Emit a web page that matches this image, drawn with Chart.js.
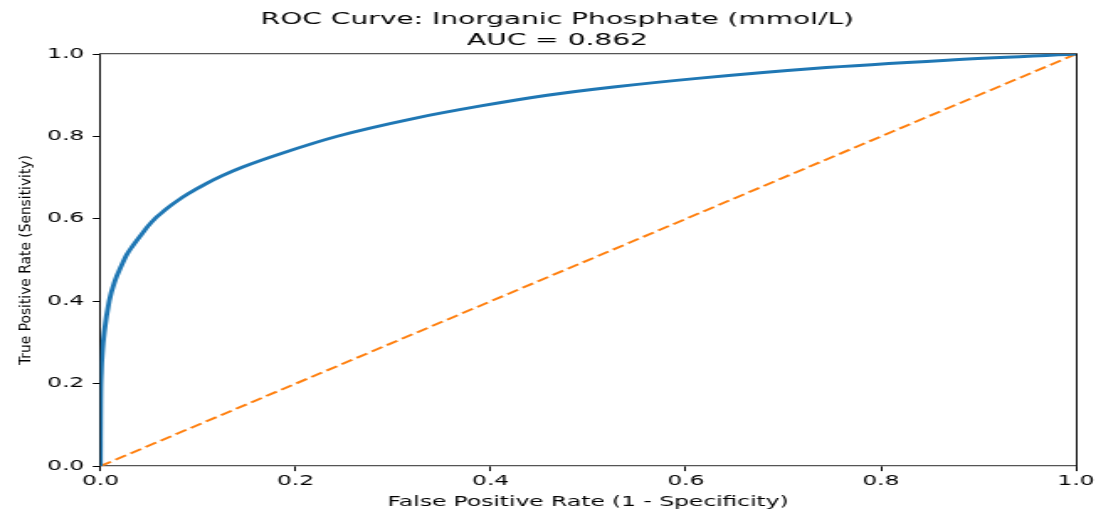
<!DOCTYPE html>
<html>
<head>
<meta charset="utf-8">
<script src="https://cdn.jsdelivr.net/npm/chart.js@4.4.1/dist/chart.umd.min.js"></script>
<style>
  html, body { margin: 0; padding: 0; background: #fff; overflow: hidden; }
  /* the reference is a matplotlib figure stretched sideways, so draw narrow and stretch */
  #wrap { position: absolute; left: 0; top: 0; width: 652px; height: 511px;
          transform: scaleX(1.681); transform-origin: 0 0; }
</style>
</head>
<body>
<div id="wrap"><canvas id="roc"></canvas></div>
<script>
// ROC curve
var fpr = [0, 0.0003, 0.001, 0.002, 0.004, 0.009, 0.015, 0.0215, 0.027, 0.033, 0.043, 0.049,
           0.0556, 0.062, 0.067, 0.073, 0.0795, 0.09, 0.108, 0.125, 0.146, 0.187, 0.242,
           0.322, 0.39, 0.458, 0.526, 0.612, 0.731, 0.868, 1.0];
var tpr = [0, 0.15, 0.23, 0.275, 0.325, 0.40, 0.45, 0.486, 0.513, 0.534, 0.565, 0.583,
           0.600, 0.613, 0.623, 0.634, 0.645, 0.661, 0.685, 0.705, 0.726, 0.760, 0.800,
           0.844, 0.874, 0.900, 0.920, 0.941, 0.965, 0.985, 1.0];

// chance line
var refX = [0, 1];
var refY = [0, 1];

var tickValues = [0, 0.2, 0.4, 0.6, 0.8, 1.0];
var tickLabels = ['0.0', '0.2', '0.4', '0.6', '0.8', '1.0'];

var titleLines = ['ROC Curve: Inorganic Phosphate (mmol/L)', 'AUC = 0.862'];
var xTitle = 'False Positive Rate (1 - Specificity)';
var yTitle = 'True Positive Rate (Sensitivity)';

var STRETCH = 1.681;
var font = 'DejaVu Sans';

function pts(xs, ys) {
  return xs.map(function (x, i) { return { x: x, y: ys[i] }; });
}

function setTicks(axis) {
  axis.ticks = tickValues.map(function (v) { return { value: v }; });
}

// y label is drawn un-stretched in the reference, so undo the sideways stretch for it
var yLabelPlugin = {
  id: 'yLabel',
  afterDraw: function (chart) {
    var ctx = chart.ctx;
    var a = chart.chartArea;
    ctx.save();
    ctx.translate(15.9, (a.top + a.bottom) / 2);
    ctx.scale(1 / STRETCH, 1);
    ctx.rotate(-Math.PI / 2);
    ctx.font = '13.8px "' + font + '"';
    ctx.fillStyle = '#000';
    ctx.textAlign = 'center';
    ctx.textBaseline = 'middle';
    ctx.fillText(yTitle, 0, 0);
    ctx.restore();
  }
};

var ctx = document.getElementById('roc').getContext('2d');

var rocChart = new Chart(ctx, {
  type: 'line',
  data: {
    datasets: [{
      label: 'ROC',
      data: pts(fpr, tpr),
      borderColor: '#1f77b4',
      borderWidth: 2.9,
      pointRadius: 0,
      cubicInterpolationMode: 'monotone',
      fill: false
    }, {
      label: 'Chance',
      data: pts(refX, refY),
      borderColor: '#ff7f0e',
      borderWidth: 1.9,
      borderDash: [7.7, 3.3],
      pointRadius: 0,
      tension: 0,
      fill: false
    }]
  },
  options: {
    responsive: true,
    maintainAspectRatio: false,
    animation: false,
    devicePixelRatio: 1,
    layout: { padding: { left: 23.1, right: 11.9, top: 0, bottom: 0 } },
    plugins: {
      legend: { display: false },
      tooltip: { enabled: false },
      title: {
        display: true,
        text: titleLines,
        color: '#000',
        font: { family: font, size: 16.7, weight: 'normal', lineHeight: 1.25 },
        padding: { top: 9, bottom: 3.3 }
      }
    },
    scales: {
      x: {
        type: 'linear',
        position: 'bottom',
        min: 0,
        max: 1,
        afterBuildTicks: setTicks,
        afterFit: function (axis) { axis.paddingRight = 0; },
        ticks: {
          color: '#000',
          font: { family: font, size: 13.9 },
          padding: 2,
          maxRotation: 0,
          callback: function (v, i) { return tickLabels[i]; }
        },
        grid: { drawOnChartArea: false, drawTicks: true, tickLength: 5, tickColor: '#000', tickWidth: 1 },
        border: { display: true, color: '#555', width: 1.3 },
        title: {
          display: true,
          text: xTitle,
          color: '#000',
          font: { family: font, size: 13.9, lineHeight: 1.2 },
          padding: { top: 2, bottom: 0.5 }
        }
      },
      y: {
        type: 'linear',
        position: 'left',
        min: 0,
        max: 1,
        afterBuildTicks: setTicks,
        ticks: {
          color: '#000',
          font: { family: font, size: 13.9 },
          padding: 5,
          callback: function (v, i) { return tickLabels[i]; }
        },
        grid: { drawOnChartArea: false, drawTicks: true, tickLength: 4.5, tickColor: '#000', tickWidth: 1 },
        border: { display: true, color: '#111', width: 1 }
      },
      xTop: {
        type: 'linear',
        position: 'top',
        min: 0,
        max: 1,
        ticks: { display: false },
        grid: { display: false, drawTicks: false },
        border: { display: true, color: '#555', width: 1.3 }
      },
      yRight: {
        type: 'linear',
        position: 'right',
        min: 0,
        max: 1,
        ticks: { display: false },
        grid: { display: false, drawTicks: false },
        border: { display: true, color: '#111', width: 1 }
      }
    }
  },
  plugins: [yLabelPlugin]
});
</script>
</body>
</html>
